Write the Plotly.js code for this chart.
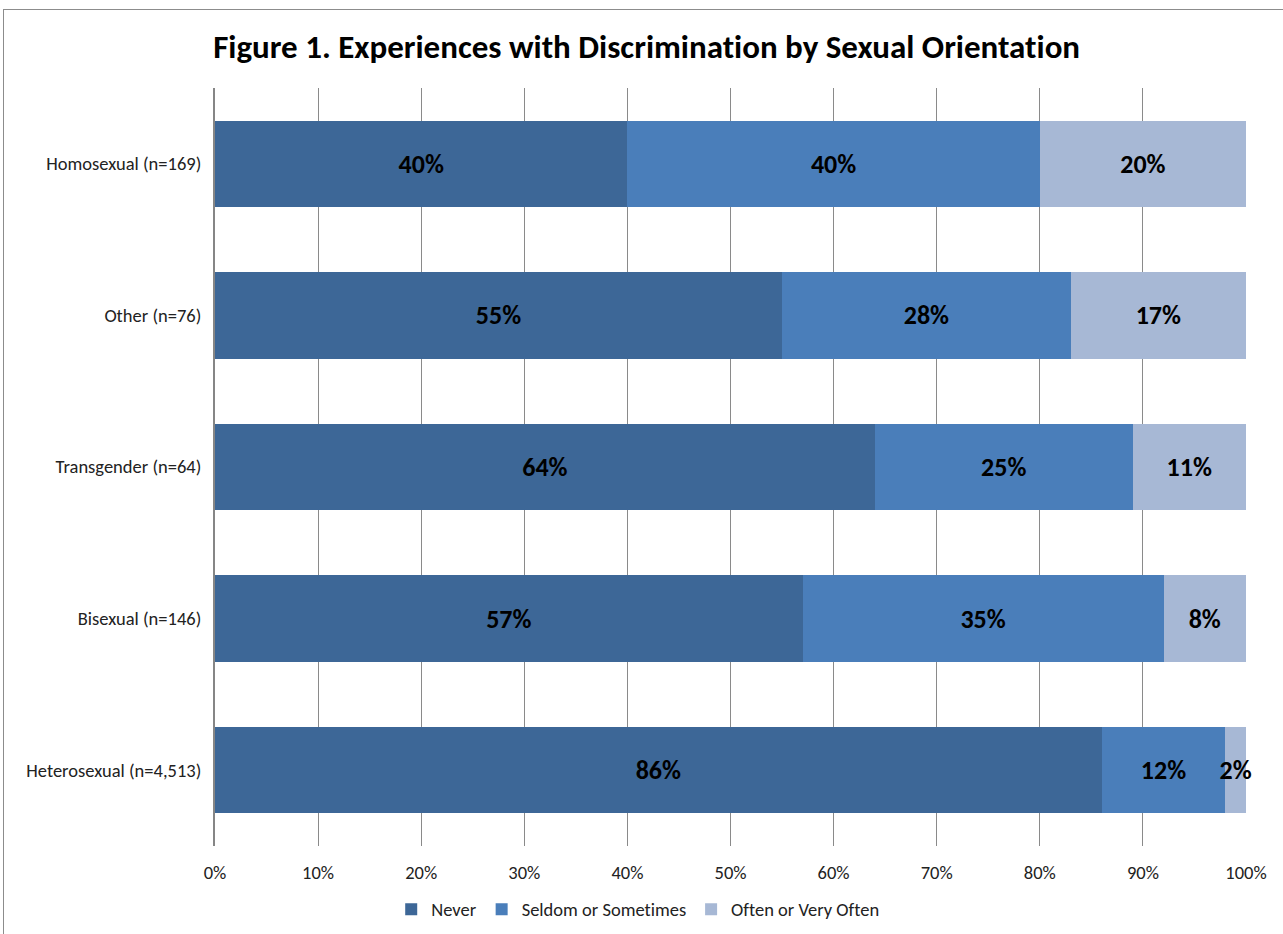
<!DOCTYPE html>
<html>
<head>
<meta charset="utf-8">
<script src="https://cdn.plot.ly/plotly-3.0.1.min.js"></script>
<style>
html,body{margin:0;padding:0;background:#fff;}
#chart{position:absolute;left:0;top:0;width:1283px;height:934px;}
#frame{position:absolute;left:3px;top:9px;width:1290px;height:940px;border:1px solid #8c8c8c;pointer-events:none;}
#chart text{font-variant-ligatures:none !important;font-feature-settings:"liga" 0, "clig" 0 !important;}
</style>
</head>
<body>
<div id="chart"></div>
<div id="frame"></div>
<script>
const categories = ["Homosexual (n=169)", "Other (n=76)", "Transgender (n=64)", "Bisexual (n=146)", "Heterosexual (n=4,513)"];
const never = [40, 55, 64, 57, 86];
const seldom = [40, 28, 25, 35, 12];
const often = [20, 17, 11, 8, 2];
const seriesNames = ["Never", "Seldom or Sometimes", "Often or Very Often"];
const colors = ["#3D6797", "#4A7EBA", "#A7B8D5"];
const xTicks = [0,10,20,30,40,50,60,70,80,90,100];

const font = "Carlito, Calibri, 'Open Sans', 'Liberation Sans', sans-serif";
const allSeries = [never, seldom, often];
const traces = allSeries.map((vals, i) => ({
  type: "bar",
  orientation: "h",
  name: seriesNames[i],
  y: categories,
  x: vals,
  marker: {color: colors[i], line: {width: 0}},
  text: vals.map(v => v + "%"),
  textposition: "inside",
  insidetextanchor: "middle",
  constraintext: "none",
  textangle: 0,
  cliponaxis: false,
  textfont: {family: font, size: 26, color: "#000", weight: "bold"},
  hoverinfo: "skip"
}));

const layout = {
  width: 1283, height: 934,
  margin: {l: 215, r: 37, t: 88, b: 88, autoexpand: false},
  paper_bgcolor: "#fff",
  plot_bgcolor: "#fff",
  barmode: "stack",
  bargap: 0.43,
  title: {
    text: "<b>Figure 1. Experiences with Discrimination by Sexual Orientation</b>",
    x: 0.504, xanchor: "center", y: 0.95, yanchor: "middle",
    font: {family: font, size: 33, color: "#000"}
  },
  xaxis: {
    range: [0, 100],
    tickvals: xTicks,
    ticktext: xTicks.map(v => v + "%"),
    showgrid: true, gridcolor: "#8a8a8a", gridwidth: 1,
    zeroline: false, showline: false,
    ticks: "", ticklabelstandoff: 13,
    tickfont: {family: font, size: 18.5, color: "#222"},
    automargin: false,
    fixedrange: true
  },
  yaxis: {
    categoryorder: "array",
    categoryarray: categories,
    autorange: "reversed",
    showline: true, linecolor: "#868686", linewidth: 2,
    showgrid: false, zeroline: false,
    ticks: "", ticklabelstandoff: 8,
    tickfont: {family: font, size: 18.5, color: "#222"},
    automargin: false,
    fixedrange: true
  },
  legend: {
    orientation: "h",
    x: 0.41, xanchor: "center",
    yref: "container",
    y: 0.026, yanchor: "middle",
    font: {family: font, size: 18.5, color: "#222"},
    itemwidth: 30,
    traceorder: "normal"
  },
  showlegend: true
};

Plotly.newPlot("chart", traces, layout, {displayModeBar: false, staticPlot: true});
</script>
</body>
</html>
